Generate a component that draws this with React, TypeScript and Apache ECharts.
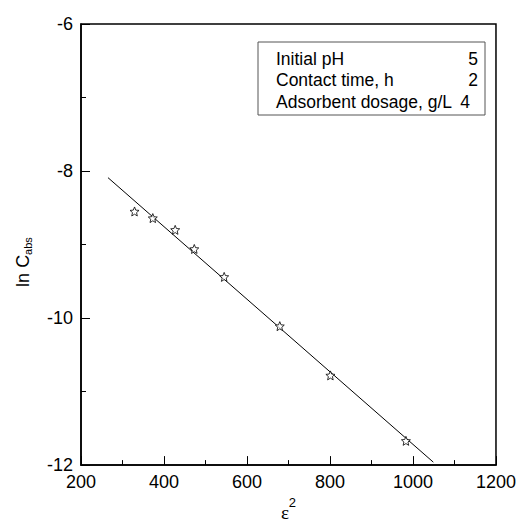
import React, { useEffect, useRef } from "react";
import * as echarts from "echarts";

const xPoints = [329, 373, 427, 473, 545, 679, 801, 983];
const yPoints = [-8.55, -8.64, -8.8, -9.06, -9.44, -10.11, -10.78, -11.67];
const fitX = [265, 1049];
const fitY = [-8.09, -11.96];
const legendLabels = ["Initial pH", "Contact time, h", "Adsorbent dosage, g/L"];
const legendValues = ["5", "2", "4"];

const STAR =
  "path://M10,0 L12.65,6.36 L19.51,6.91 L14.28,11.39 L15.88,18.09 L10,14.5 L4.12,18.09 L5.72,11.39 L0.49,6.91 L7.35,6.36 Z";

export default function App() {
  const ref = useRef<HTMLDivElement>(null);
  useEffect(() => {
    const chart = echarts.init(ref.current!, null, { renderer: "svg" });
    const font = "Liberation Sans, Arial, sans-serif";
    const rowsY = [58.5, 80, 101.5];
    const graphics: any[] = [
      {
        type: "rect",
        shape: { x: 258, y: 42, width: 227, height: 73 },
        style: { fill: "#fff", stroke: "#555", lineWidth: 1 },
        z: 10,
      },
      {
        type: "text",
        x: 23,
        y: 262,
        rotation: Math.PI / 2,
        style: {
          text: "{m|ln C}{sub|abs}",
          textAlign: "center",
          textVerticalAlign: "middle",
          rich: {
            m: { fontSize: 18, fontFamily: font, fill: "#000" },
            sub: { fontSize: 11, fontFamily: font, fill: "#000", verticalAlign: "bottom", padding: [9, 0, 0, 0] },
          },
        },
        z: 11,
      },
    ];
    legendLabels.forEach((t, i) => {
      graphics.push({
        type: "text",
        x: 276,
        y: rowsY[i],
        style: { text: t, font: `17.5px ${font}`, fill: "#000", textVerticalAlign: "middle", textAlign: "left" },
        z: 11,
      });
      graphics.push({
        type: "text",
        x: i === 2 ? 470 : 478,
        y: rowsY[i],
        style: { text: legendValues[i], font: `17.5px ${font}`, fill: "#000", textVerticalAlign: "middle", textAlign: "right" },
        z: 11,
      });
    });
    chart.setOption({
      animation: false,
      backgroundColor: "#fff",
      grid: { left: 81, top: 24, right: 21, bottom: 49, show: true, borderColor: "#000", borderWidth: 1.5 },
      xAxis: {
        type: "value",
        min: 200,
        max: 1200,
        interval: 200,
        name: "{e|ε}{sup|2}",
        nameLocation: "middle",
        nameGap: 30,
        nameTextStyle: {
          rich: {
            e: { fontSize: 19, fontFamily: "Liberation Serif, serif", color: "#000", padding: [7, 0, 0, 0] },
            sup: { fontSize: 13, fontFamily: font, color: "#000", verticalAlign: "top" },
          },
        },
        axisLine: { show: true, lineStyle: { color: "#000", width: 1.5 } },
        axisTick: { show: true, inside: true, length: 9, lineStyle: { color: "#000", width: 1 } },
        minorTick: { show: true, splitNumber: 2, length: 5, lineStyle: { color: "#000", width: 1 } },
        axisLabel: { color: "#000", fontSize: 18, fontFamily: font, margin: 8, formatter: (v: number) => String(v) },
        splitLine: { show: false },
      },
      yAxis: {
        type: "value",
        min: -12,
        max: -6,
        interval: 2,
        axisLine: { show: true, lineStyle: { color: "#000", width: 1.5 } },
        axisTick: { show: true, inside: true, length: 9, lineStyle: { color: "#000", width: 1 } },
        minorTick: { show: true, splitNumber: 2, length: 5, lineStyle: { color: "#000", width: 1 } },
        axisLabel: { color: "#000", fontSize: 18, fontFamily: font, margin: 8, formatter: (v: number) => String(v) },
        splitLine: { show: false },
      },
      series: [
        {
          type: "line",
          data: fitX.map((x, i) => [x, fitY[i]]),
          symbol: "none",
          lineStyle: { color: "#000", width: 1 },
          z: 2,
        },
        {
          type: "scatter",
          data: xPoints.map((x, i) => [x, yPoints[i]]),
          symbol: STAR,
          symbolSize: 9,
          itemStyle: { color: "#fff", borderColor: "#000", borderWidth: 1 },
          z: 3,
        },
      ],
      graphic: graphics,
    });
    return () => chart.dispose();
  }, []);
  return <div ref={ref} style={{ width: 519, height: 527, position: "absolute", left: 0, top: 0 }} />;
}
